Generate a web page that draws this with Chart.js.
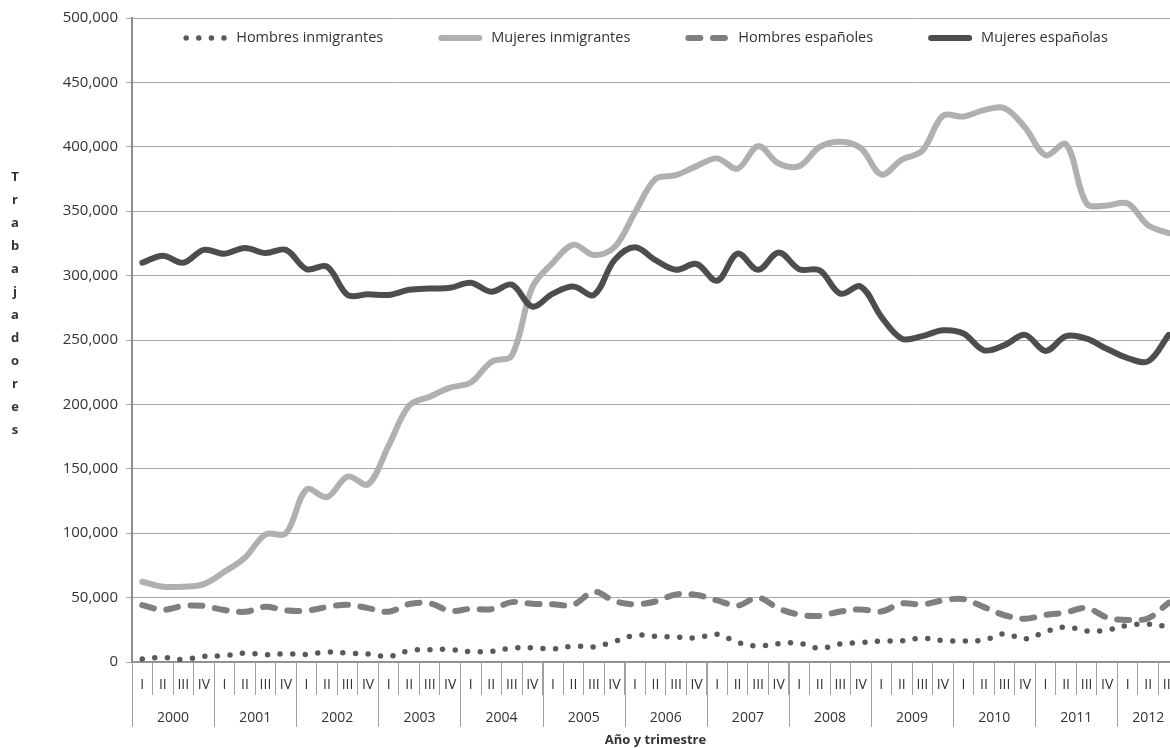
<!DOCTYPE html>
<html>
<head>
<meta charset="utf-8">
<script src="https://cdn.jsdelivr.net/npm/chart.js@4.4.1/dist/chart.umd.min.js"></script>
<style>
html, body { margin: 0; padding: 0; background: #fff; overflow: hidden; width: 1170px; height: 748px; }
#wrap { width: 1179px; height: 748px; }
</style>
</head>
<body>
<div id="wrap"><canvas id="c" width="1179" height="748"></canvas></div>
<script>
// ---- Data ----
const years = ['2000','2001','2002','2003','2004','2005','2006','2007','2008','2009','2010','2011','2012'];
const quarters = ['I','II','III','IV'];
const seriesNames = ['Hombres inmigrantes','Mujeres inmigrantes','Hombres españoles','Mujeres españolas'];

const hombresInmigrantes = [
  2300, 3600, 1900, 4400, 4800, 7000, 5600, 6500, 5800, 7800,
  6900, 6200, 4200, 8800, 9600, 9700, 8000, 8300, 10800, 11000,
  10100, 12300, 11800, 16000, 20700, 20000, 19400, 18700, 21500, 15300,
  12400, 14300, 14600, 10700, 14000, 15000, 16300, 16500, 18600, 16600,
  16200, 17000, 22000, 17900, 23500, 27200, 24100, 24800, 28500, 29300, 27500
];
const mujeresInmigrantes = [
  62300, 58500, 58500, 60500, 70000, 81000, 99000, 100000, 134000, 128000,
  144000, 138000, 168000, 199000, 206000, 213000, 217000, 233000, 238000, 291000,
  310000, 324000, 316000, 322000, 349000, 375000, 378000, 385000, 391000, 383000,
  400500, 387000, 385000, 400000, 404000, 399000, 378500, 390000, 397000, 424000,
  423500, 428500, 430000, 415000, 393500, 402000, 356000, 354500, 356000, 339000, 333000
];
const hombresEspanoles = [
  44200, 40500, 43500, 43500, 40300, 39000, 42900, 40000, 39800, 42700,
  44500, 41800, 39000, 45000, 45600, 39700, 41300, 41000, 46500, 45200,
  44800, 44500, 54600, 47300, 44800, 47000, 52500, 52000, 47800, 43800,
  50000, 41500, 36800, 35800, 39200, 40800, 39200, 45500, 44600, 47800,
  48800, 42600, 36300, 33600, 36600, 38500, 42000, 34500, 32600, 34000, 46000
];
const mujeresEspanolas = [
  310000, 315500, 310000, 320000, 317000, 321500, 317500, 320000, 305000, 307000,
  285000, 285500, 285000, 289000, 290000, 290500, 294500, 287500, 293000, 276000,
  286000, 291500, 285000, 312000, 322000, 312000, 304500, 309000, 296000, 317000,
  304500, 318000, 305000, 304000, 286000, 291500, 268000, 251000, 253000, 257500,
  255000, 242000, 246000, 254000, 241500, 253000, 251000, 243000, 236000, 233500, 254000
];
const yMin = 0, yMax = 500000, yStep = 50000;
const xTitle = 'Año y trimestre';
const yTitle = 'Trabajadores';

// category labels: one quarter label per data point
const quarterLabels = hombresInmigrantes.map((_, i) => quarters[i % 4]);

const FONT = '"Open Sans", sans-serif';
Chart.defaults.font.family = FONT;
Chart.defaults.color = '#333';

const fmt = v => String(v).replace(/\B(?=(\d{3})+(?!\d))/g, ',');

// Legend row inside the plot area, built from the datasets' own labels and styles
const legendRow = {
  id: 'legendRow',
  afterDraw(chart) {
    const {ctx, chartArea: ca} = chart;
    ctx.save();
    ctx.font = '14.5px ' + FONT;
    const markerW = 38, gap = 9, sep = 55;
    const items = chart.data.datasets.map(ds => ({ ds, w: ctx.measureText(ds.label).width }));
    const total = items.reduce((s, it) => s + markerW + 6 + gap + it.w, 0) + sep * (items.length - 1);
    let x = (ca.left + ca.right) / 2 - 10 - total / 2;
    const y = ca.top + 20;
    items.forEach(({ ds, w }) => {
      ctx.beginPath();
      ctx.setLineDash(ds.borderDash || []);
      ctx.lineCap = 'round';
      ctx.lineWidth = ds.borderWidth;
      ctx.strokeStyle = ds.borderColor;
      ctx.moveTo(x + 3, y);
      ctx.lineTo(x + 3 + markerW, y);
      ctx.stroke();
      ctx.setLineDash([]);
      ctx.fillStyle = '#333';
      ctx.textAlign = 'left';
      ctx.textBaseline = 'middle';
      ctx.fillText(ds.label, x + markerW + 6 + gap, y);
      x += markerW + 6 + gap + w + sep;
    });
    ctx.restore();
  }
};

// Year groups, long separators and the stacked y title
const categoryGroups = {
  id: 'categoryGroups',
  afterDraw(chart) {
    const {ctx, chartArea: ca, scales: {x}} = chart;
    const n = chart.data.labels.length;
    const step = x.getPixelForValue(1) - x.getPixelForValue(0);
    ctx.save();
    ctx.strokeStyle = '#a0a0a0';
    ctx.lineWidth = 1;
    ctx.beginPath();
    for (let i = 0; i <= n; i += 4) {
      const px = Math.round(x.getPixelForValue(i) - step / 2) + 0.5;
      ctx.moveTo(px, ca.bottom);
      ctx.lineTo(px, ca.bottom + 65);
    }
    ctx.stroke();
    ctx.font = '14px ' + FONT;
    ctx.fillStyle = '#333';
    ctx.textAlign = 'center';
    ctx.textBaseline = 'middle';
    years.forEach((yr, k) => {
      const a = 4 * k;
      if (a > n - 1) return;
      const b = Math.min(4 * k + 3, n - 1);
      ctx.fillText(yr, (x.getPixelForValue(a) + x.getPixelForValue(b)) / 2, ca.bottom + 56);
    });
    ctx.font = 'bold 13px ' + FONT;
    [...yTitle].forEach((ch, i) => ctx.fillText(ch, 15, ca.top + 159 + 23 * i));
    ctx.restore();
  }
};

const common = { pointRadius: 0, pointHoverRadius: 0, tension: 0.35, fill: false, borderJoinStyle: 'round' };

new Chart(document.getElementById('c'), {
  type: 'line',
  data: {
    labels: quarterLabels,
    datasets: [
      Object.assign({ label: seriesNames[0], data: hombresInmigrantes, borderColor: '#595959', borderWidth: 5.5, borderDash: [0, 12.6], borderCapStyle: 'round', order: 4 }, common),
      Object.assign({ label: seriesNames[1], data: mujeresInmigrantes, borderColor: '#b0b0b0', borderWidth: 6, borderCapStyle: 'round', order: 3 }, common),
      Object.assign({ label: seriesNames[2], data: hombresEspanoles, borderColor: '#7f7f7f', borderWidth: 6, borderDash: [12, 12.6], borderCapStyle: 'round', order: 2 }, common),
      Object.assign({ label: seriesNames[3], data: mujeresEspanolas, borderColor: '#4d4d4d', borderWidth: 6, borderCapStyle: 'round', order: 1 }, common)
    ]
  },
  options: {
    responsive: false,
    animation: false,
    layout: { padding: { top: 18, left: 0, right: 0, bottom: 0 } },
    plugins: {
      tooltip: { enabled: false },
      legend: { display: false }
    },
    scales: {
      x: {
        type: 'category',
        offset: true,
        grid: { display: true, drawOnChartArea: false, drawTicks: true, tickLength: 33, offset: true, color: '#a0a0a0', lineWidth: 1 },
        border: { display: true, color: '#8c8c8c', width: 1.5 },
        ticks: { autoSkip: false, maxRotation: 0, minRotation: 0, padding: -18, font: { family: FONT, size: 14 }, color: '#333' },
        title: { display: true, text: xTitle, font: { family: FONT, size: 13, weight: 'bold' }, color: '#333', padding: { top: 0, bottom: 0 } },
        afterFit(s) { s.height = 86; }
      },
      y: {
        min: yMin, max: yMax,
        ticks: { stepSize: yStep, padding: 8, font: { family: FONT, size: 15 }, color: '#333', callback: v => fmt(v) },
        grid: { color: '#a6a6a6', lineWidth: 1, tickLength: 6 },
        border: { display: true, color: '#8c8c8c', width: 2 },
        afterFit(s) { s.width = 132; }
      }
    }
  },
  plugins: [legendRow, categoryGroups]
});
</script>
</body>
</html>
